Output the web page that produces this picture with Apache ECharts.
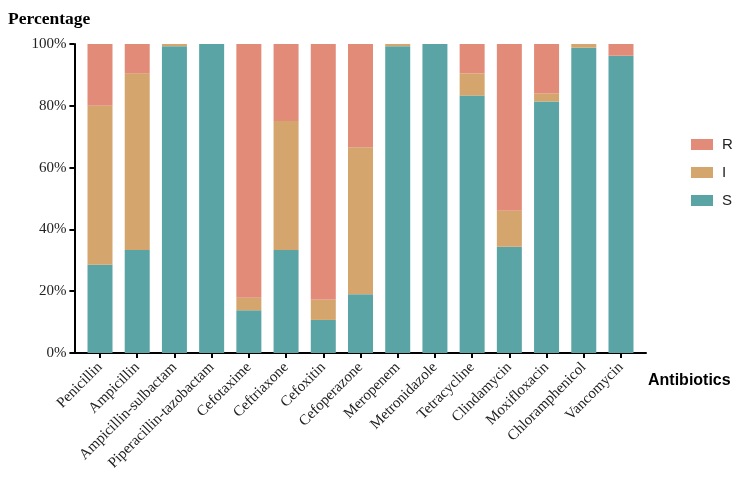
<!DOCTYPE html>
<html>
<head>
<meta charset="utf-8">
<script src="https://cdn.jsdelivr.net/npm/echarts@6/dist/echarts.min.js"></script>
<style>html,body{margin:0;padding:0;background:#fff;}#c{width:744px;height:483px;}</style>
</head>
<body>
<div id="c"></div>
<script>
var categories = ['Penicillin','Ampicillin','Ampicillin-sulbactam','Piperacillin-tazobactam','Cefotaxime','Ceftriaxone','Cefoxitin','Cefoperazone','Meropenem','Metronidazole','Tetracycline','Clindamycin','Moxifloxacin','Chloramphenicol','Vancomycin'];
var sValues = [28.6, 33.3, 99.3, 100, 13.8, 33.3, 10.7, 19.0, 99.3, 100, 83.3, 34.4, 81.4, 98.8, 96.2];
var iValues = [51.4, 57.2, 0.7, 0, 4.1, 41.8, 6.5, 47.6, 0.7, 0, 7.2, 11.6, 2.6, 1.2, 0];
var rValues = [20.0, 9.5, 0, 0, 82.1, 24.9, 82.8, 33.4, 0, 0, 9.5, 54.0, 16.0, 0, 3.8];
var yTicks = [0, 20, 40, 60, 80, 100];

var colors = {R: '#E38B79', I: '#D4A56D', S: '#5BA4A6'};
var chart = echarts.init(document.getElementById('c'), null, {renderer: 'canvas'});
var serif = '"Liberation Serif", "DejaVu Serif", serif';
var sans = '"Liberation Sans", Arial, sans-serif';
chart.setOption({
  animation: false,
  backgroundColor: '#fff',
  title: [
    {text: 'Percentage', left: 3, top: 5, textStyle: {fontFamily: serif, fontWeight: 'bold', fontSize: 17.5, color: '#000'}},
    {text: 'Antibiotics', left: 643, top: 368, textStyle: {fontFamily: sans, fontWeight: 'bold', fontSize: 16, color: '#000'}}
  ],
  legend: {
    orient: 'vertical', left: 686, top: 132,
    data: ['R', 'I', 'S'],
    itemWidth: 22, itemHeight: 11, itemGap: 13, itemStyle: {borderWidth: 0},
    textStyle: {fontFamily: sans, fontSize: 15, color: '#222', padding: [0, 0, 0, 4]},
    icon: 'rect'
  },
  grid: [
    {left: 81.4, right: 104.4, top: 44, bottom: 130},
    {left: 74, right: 98, top: 44, bottom: 130}
  ],
  xAxis: [
    {
      type: 'category', data: categories, gridIndex: 0,
      axisLine: {show: false},
      axisTick: {show: true, alignWithLabel: true, length: 5, lineStyle: {color: '#000', width: 2}},
      axisLabel: {rotate: 45, margin: 12, interval: 0, fontFamily: serif, fontSize: 15, color: '#222'}
    },
    {
      type: 'value', gridIndex: 1, min: 0, max: 1,
      axisLine: {show: true, lineStyle: {color: '#000', width: 2}},
      axisTick: {show: false}, axisLabel: {show: false}, splitLine: {show: false}
    }
  ],
  yAxis: [
    {
      type: 'value', gridIndex: 0, min: 0, max: 100, interval: 20, offset: 7,
      axisLine: {show: true, lineStyle: {color: '#000', width: 2}},
      axisTick: {show: true, length: 5, lineStyle: {color: '#000', width: 2}},
      axisLabel: {margin: 8, fontFamily: serif, fontSize: 15, color: '#222',
        formatter: function (v) { return yTicks.indexOf(v) >= 0 ? v + '%' : ''; }},
      splitLine: {show: false}
    },
    {type: 'value', gridIndex: 1, show: false, min: 0, max: 1}
  ],
  series: [
    {name: 'S', type: 'bar', stack: 'a', data: sValues, barWidth: 25, itemStyle: {color: colors.S}},
    {name: 'I', type: 'bar', stack: 'a', data: iValues, barWidth: 25, itemStyle: {color: colors.I}},
    {name: 'R', type: 'bar', stack: 'a', data: rValues, barWidth: 25, itemStyle: {color: colors.R}}
  ]
});
</script>
</body>
</html>
